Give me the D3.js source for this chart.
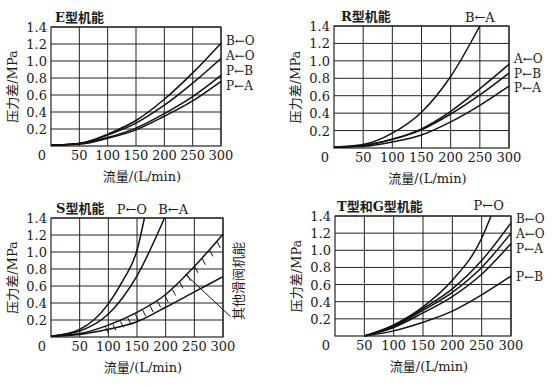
<!DOCTYPE html>
<html>
<head>
<meta charset="utf-8">
<script src="https://cdn.jsdelivr.net/npm/d3@7"></script>
<style>
  body { margin: 0; background: #fff; }
  svg text { fill: #1a1a1a; }
</style>
</head>
<body>
<svg width="558" height="387"></svg>
<script>
// flow values (L/min)
const flows = [0, 50, 100, 150, 200, 250, 300];
const flowsFrom50 = [50, 100, 150, 200, 250, 300];

// E type
const eBO = [0.01, 0.03, 0.14, 0.30, 0.55, 0.86, 1.21];
const eAO = [0.01, 0.03, 0.13, 0.27, 0.48, 0.74, 1.03];
const ePB = [0.01, 0.03, 0.10, 0.21, 0.38, 0.58, 0.83];
const ePA = [0.01, 0.02, 0.09, 0.19, 0.35, 0.53, 0.76];

// R type
const rBAFlows = [0, 50, 100, 150, 200, 250];
const rBA = [0.01, 0.04, 0.17, 0.41, 0.82, 1.40];
const rAO = [0.01, 0.03, 0.10, 0.22, 0.42, 0.68, 0.96];
const rPB = [0.01, 0.03, 0.10, 0.21, 0.39, 0.61, 0.86];
const rPA = [0.01, 0.02, 0.07, 0.15, 0.30, 0.49, 0.71];

// S type
const sPOFlows = [0, 50, 100, 125, 150, 163];
const sPO = [0.01, 0.09, 0.39, 0.66, 1.02, 1.40];
const sBAFlows = [0, 50, 100, 150, 198];
const sBA = [0.01, 0.07, 0.27, 0.72, 1.40];
const sUpper = [0.01, 0.04, 0.14, 0.29, 0.50, 0.83, 1.21];
const sLower = [0.01, 0.03, 0.09, 0.18, 0.35, 0.53, 0.71];
const hatchFlows = [95, 108, 121, 134, 147, 160, 173, 186, 199, 212, 225, 238, 251, 264, 277, 290];
const leader = [[234, 0.74], [313, 0.24]];

// T and G type
const tPOFlows = [50, 100, 150, 200, 250, 266];
const tPO = [0.0, 0.13, 0.34, 0.65, 1.14, 1.40];
const tBO = [0.0, 0.12, 0.32, 0.55, 0.88, 1.32];
const tAO = [0.0, 0.11, 0.30, 0.51, 0.80, 1.20];
const tPA = [0.0, 0.10, 0.27, 0.46, 0.72, 1.08];
const tPB = [0.0, 0.06, 0.16, 0.29, 0.48, 0.70];

const xTicks = [50, 100, 150, 200, 250, 300];
const yTicks = [0.2, 0.4, 0.6, 0.8, 1.0, 1.2, 1.4];

const numFont = '"DejaVu Serif", serif';
const cjkFont = '"DejaVu Serif", "Noto Sans CJK SC", sans-serif';

const panels = [
  {
    title: 'E型机能', left: 51, top: 27, width: 170, height: 119, titleDx: 4,
    series: [[flows, eBO], [flows, eAO], [flows, ePB], [flows, ePA]],
    sideLabels: [['B←O', 1.23], ['A←O', 1.06], ['P←B', 0.88], ['P←A', 0.71]],
    topLabels: []
  },
  {
    title: 'R型机能', left: 334, top: 26, width: 175, height: 122, titleDx: 7,
    series: [[rBAFlows, rBA], [flows, rAO], [flows, rPB], [flows, rPA]],
    sideLabels: [['A←O', 1.02], ['P←B', 0.85], ['P←A', 0.69]],
    topLabels: [['B←A', 250, 9]]
  },
  {
    title: 'S型机能', left: 51, top: 218, width: 172, height: 119, titleDx: 5,
    series: [[sPOFlows, sPO], [sBAFlows, sBA], [flows, sUpper], [flows, sLower]],
    sideLabels: [],
    topLabels: [['P←O', 141, 9], ['B←A', 213, 9]],
    hatch: true
  },
  {
    title: 'T型和G型机能', left: 335, top: 216, width: 176, height: 120, titleDx: 2,
    series: [[tPOFlows, tPO], [flowsFrom50, tBO], [flowsFrom50, tAO], [flowsFrom50, tPA], [flowsFrom50, tPB]],
    sideLabels: [['B←O', 1.36], ['A←O', 1.19], ['P←A', 1.02], ['P←B', 0.69]],
    topLabels: [['P←O', 262, 11]]
  }
];

const svg = d3.select('svg');

panels.forEach(p => drawPanel(p));

function drawPanel(p) {
  const x = d3.scaleLinear().domain([0, 300]).range([p.left, p.left + p.width]);
  const y = d3.scaleLinear().domain([0, 1.4]).range([p.top + p.height, p.top]);
  const g = svg.append('g');

  // grid
  g.selectAll('.vg').data(xTicks).join('line')
    .attr('x1', d => x(d)).attr('x2', d => x(d))
    .attr('y1', y(0)).attr('y2', y(1.4))
    .attr('stroke', '#222').attr('stroke-width', 1);
  g.selectAll('.hg').data(yTicks).join('line')
    .attr('x1', x(0)).attr('x2', x(300))
    .attr('y1', d => y(d)).attr('y2', d => y(d))
    .attr('stroke', '#222').attr('stroke-width', 1);
  g.append('rect')
    .attr('x', x(0)).attr('y', y(1.4))
    .attr('width', x(300) - x(0)).attr('height', y(0) - y(1.4))
    .attr('fill', 'none').attr('stroke', '#222').attr('stroke-width', 1.2);

  // tick labels
  g.selectAll('.yt').data(yTicks).join('text')
    .attr('x', x(0) - 4).attr('y', d => y(d) + 5)
    .attr('text-anchor', 'end')
    .style('font-family', numFont).style('font-size', '13px')
    .text(d => d.toFixed(1));
  g.selectAll('.xt').data(xTicks).join('text')
    .attr('x', d => x(d)).attr('y', y(0) + 14)
    .attr('text-anchor', 'middle')
    .style('font-family', numFont).style('font-size', '13px')
    .text(d => d);
  g.append('text')
    .attr('x', x(0) - 5).attr('y', y(0) + 14)
    .attr('text-anchor', 'end')
    .style('font-family', numFont).style('font-size', '13px')
    .text('0');

  // axis titles
  g.append('text')
    .attr('x', (x(0) + x(300)) / 2 + 6).attr('y', y(0) + 35)
    .attr('text-anchor', 'middle')
    .style('font-family', cjkFont).style('font-size', '13px')
    .text('流量/(L/min)');
  const cy = (y(0) + y(1.4)) / 2;
  g.append('text')
    .attr('transform', `translate(${x(0) - 34},${cy}) rotate(-90)`)
    .attr('text-anchor', 'middle')
    .style('font-family', cjkFont).style('font-size', '13px')
    .text('压力差/MPa');
  g.append('text')
    .attr('x', x(0) + p.titleDx).attr('y', y(1.4) - 5)
    .style('font-family', cjkFont).style('font-size', '13px').style('font-weight', 'bold')
    .text(p.title);

  // curves
  const line = d3.line()
    .x(d => x(d[0])).y(d => y(d[1]))
    .curve(d3.curveMonotoneX);
  const paths = p.series.map(([fs, vs]) =>
    g.append('path')
      .attr('d', line(fs.map((f, i) => [f, vs[i]])))
      .attr('fill', 'none').attr('stroke', '#111').attr('stroke-width', 1.5)
  );

  // labels
  g.selectAll('.sl').data(p.sideLabels).join('text')
    .attr('x', x(300) + 5).attr('y', d => y(d[1]) + 4)
    .style('font-family', numFont).style('font-size', '12px')
    .text(d => d[0]);
  g.selectAll('.tl').data(p.topLabels).join('text')
    .attr('x', d => x(d[1])).attr('y', d => y(1.4) - d[2] + 5)
    .attr('text-anchor', 'middle')
    .style('font-family', numFont).style('font-size', '13px')
    .text(d => d[0]);

  if (p.hatch) {
    const upper = paths[2].node();
    const len = upper.getTotalLength();
    const pointAt = px => {
      let lo = 0, hi = len;
      for (let k = 0; k < 30; k++) {
        const mid = (lo + hi) / 2;
        if (upper.getPointAtLength(mid).x < px) lo = mid; else hi = mid;
      }
      return upper.getPointAtLength(lo);
    };
    hatchFlows.forEach(f => {
      const pt = pointAt(x(f));
      g.append('line')
        .attr('x1', pt.x).attr('y1', pt.y + 1)
        .attr('x2', pt.x + 3).attr('y2', pt.y + 7)
        .attr('stroke', '#111').attr('stroke-width', 1);
    });
    g.append('line')
      .attr('x1', x(leader[0][0])).attr('y1', y(leader[0][1]))
      .attr('x2', x(leader[1][0])).attr('y2', y(leader[1][1]))
      .attr('stroke', '#111').attr('stroke-width', 1);
    g.append('text')
      .attr('transform', `translate(${x(300) + 20},${y(0.66)}) rotate(-90)`)
      .attr('text-anchor', 'middle')
      .style('font-family', cjkFont).style('font-size', '13px')
      .text('其他滑阀机能');
  }
}
</script>
</body>
</html>
